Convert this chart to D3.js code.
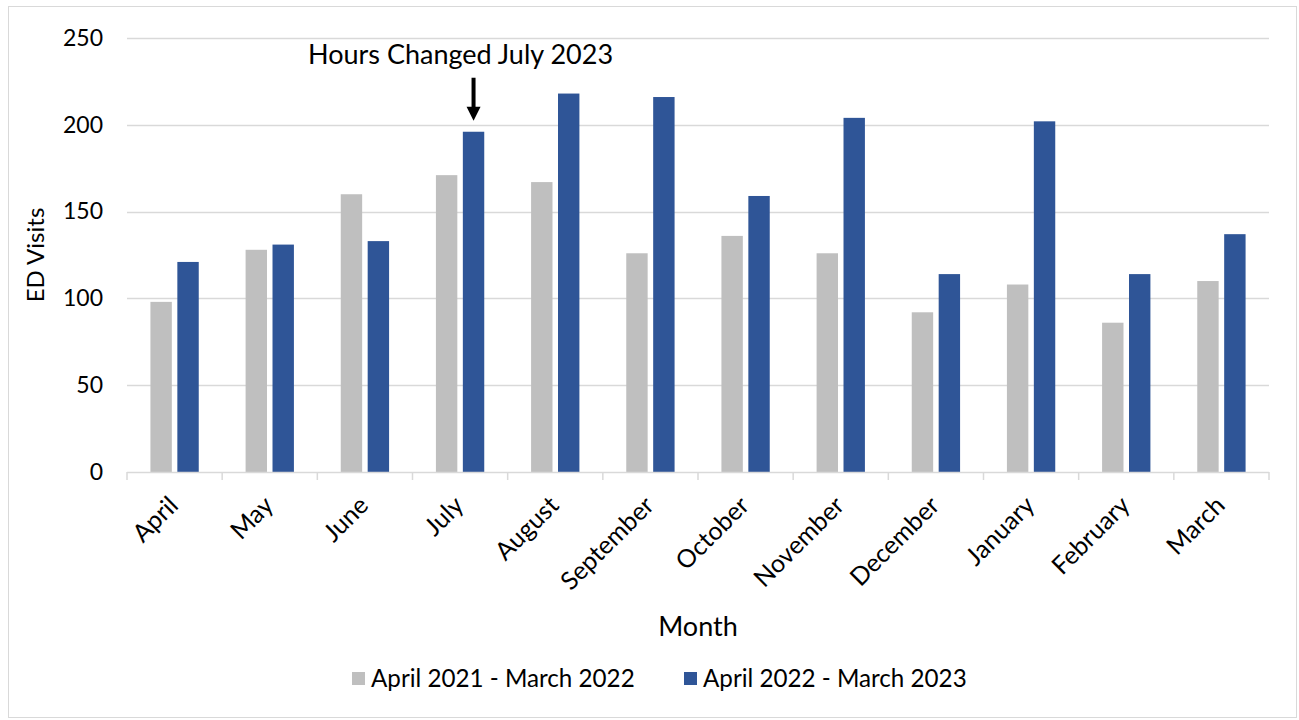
<!DOCTYPE html>
<html>
<head>
<meta charset="utf-8">
<script src="https://cdn.jsdelivr.net/npm/d3@7"></script>
<style>
  body { margin: 0; background: #fff; }
  svg { display: block; font-family: Lato, 'Open Sans', sans-serif; }
</style>
</head>
<body>
<div id="chart"></div>
<script>
const months = ['April', 'May', 'June', 'July', 'August', 'September', 'October',
  'November', 'December', 'January', 'February', 'March']
const seriesNames = ['April 2021 - March 2022', 'April 2022 - March 2023']
const visits2122 = [98, 128, 160, 171, 167, 126, 136, 126, 92, 108, 86, 110]
const visits2223 = [121, 131, 133, 196, 218, 216, 159, 204, 114, 202, 114, 137]
const yTicks = [0, 50, 100, 150, 200, 250]
const annotation = { month: 'July', series: 1, text: 'Hours Changed July 2023' }

const totalW = 1299
const totalH = 720
const margin = { top: 38, left: 127, right: 30, bottom: 248 }
const width = totalW - margin.left - margin.right
const height = totalH - margin.top - margin.bottom

const colors = ['#bfbfbf', '#2f5597']

const data = months.map((m, i) => ({ month: m, values: [visits2122[i], visits2223[i]] }))

const svg = d3.select('#chart')
  .append('svg')
  .attr('width', totalW)
  .attr('height', totalH)

// outer frame
svg.append('rect')
  .attr('x', 8.5).attr('y', 6.5)
  .attr('width', totalW - 11).attr('height', totalH - 9)
  .attr('fill', 'none')
  .attr('stroke', '#d9d9d9')

const g = svg.append('g')
  .attr('transform', `translate(${margin.left},${margin.top})`)

const x = d3.scaleBand()
  .domain(months)
  .range([0, width])
  .padding(0)

const xSub = d3.scaleBand()
  .domain([0, 1])
  .range([0, x.bandwidth()])
  .paddingInner(0.205)
  .paddingOuter(0.87)

const y = d3.scaleLinear()
  .domain([0, 250])
  .range([height, 0])

// gridlines
g.append('g')
  .selectAll('line')
  .data(yTicks.filter(d => d > 0))
  .join('line')
  .attr('x1', 0)
  .attr('x2', width)
  .attr('y1', d => Math.round(y(d)) + 0.5)
  .attr('y2', d => Math.round(y(d)) + 0.5)
  .attr('stroke', '#d9d9d9')
  .attr('stroke-width', 1.5)

// y axis labels
g.append('g')
  .call(d3.axisLeft(y).tickValues(yTicks).tickSize(0).tickPadding(24))
  .call(a => a.select('.domain').remove())
  .selectAll('text')
  .style('font-family', "Lato, 'Open Sans', sans-serif")
  .style('font-size', '23px')
  .attr('fill', '#000')

// bars
const groups = g.append('g')
  .selectAll('g')
  .data(data)
  .join('g')
  .attr('transform', d => `translate(${x(d.month)},0)`)

groups.selectAll('rect')
  .data(d => d.values.map((v, i) => ({ i, v })))
  .join('rect')
  .attr('x', d => xSub(d.i))
  .attr('width', xSub.bandwidth())
  .attr('y', d => y(d.v))
  .attr('height', d => y(0) - y(d.v))
  .attr('fill', d => colors[d.i])

// x axis
const xAxis = g.append('g')
  .attr('transform', `translate(0,${height})`)

xAxis.append('line')
  .attr('x1', 0).attr('x2', width)
  .attr('y1', 0.5).attr('y2', 0.5)
  .attr('stroke', '#d9d9d9')
  .attr('stroke-width', 1.5)

xAxis.selectAll('.tick-mark')
  .data(months.concat(['end']))
  .join('line')
  .attr('class', 'tick-mark')
  .attr('x1', (d, i) => i * x.step())
  .attr('x2', (d, i) => i * x.step())
  .attr('y1', 0)
  .attr('y2', 8)
  .attr('stroke', '#d9d9d9')
  .attr('stroke-width', 1.5)

xAxis.selectAll('.month-label')
  .data(months)
  .join('text')
  .attr('class', 'month-label')
  .attr('transform', d => `translate(${x(d) + x.bandwidth() / 2 + 5},${35}) rotate(-45)`)
  .attr('text-anchor', 'end')
  .style('font-size', '25px')
  .text(d => d)

// axis titles
svg.append('text')
  .attr('transform', `translate(44,${margin.top + height / 2}) rotate(-90)`)
  .attr('text-anchor', 'middle')
  .style('font-size', '24px')
  .text('ED Visits')

svg.append('text')
  .attr('x', margin.left + width / 2)
  .attr('y', 636)
  .attr('text-anchor', 'middle')
  .style('font-size', '27px')
  .text('Month')

// annotation arrow + text
const ax = margin.left + x(annotation.month) + xSub(annotation.series) + xSub.bandwidth() / 2
const aTip = margin.top + y(data.find(d => d.month === annotation.month).values[annotation.series]) - 11
const ann = svg.append('g')
ann.append('rect')
  .attr('x', ax - 2).attr('y', aTip - 43)
  .attr('width', 4).attr('height', 30)
ann.append('path')
  .attr('d', `M${ax - 7},${aTip - 14} L${ax + 7},${aTip - 14} L${ax},${aTip} Z`)
ann.append('text')
  .attr('x', ax - 13)
  .attr('y', 64)
  .attr('text-anchor', 'middle')
  .style('font-size', '27px')
  .text(annotation.text)

// legend
const legend = svg.append('g')
  .attr('transform', 'translate(352,679)')
const legendX = [0, 332]
const items = legend.selectAll('g')
  .data(seriesNames)
  .join('g')
  .attr('transform', (d, i) => `translate(${legendX[i]},0)`)
items.append('rect')
  .attr('x', 0).attr('y', -7)
  .attr('width', 13).attr('height', 13)
  .attr('fill', (d, i) => colors[i])
items.append('text')
  .attr('x', 19)
  .attr('dy', '0.35em')
  .style('font-size', '24.2px')
  .text(d => d)
</script>
</body>
</html>
